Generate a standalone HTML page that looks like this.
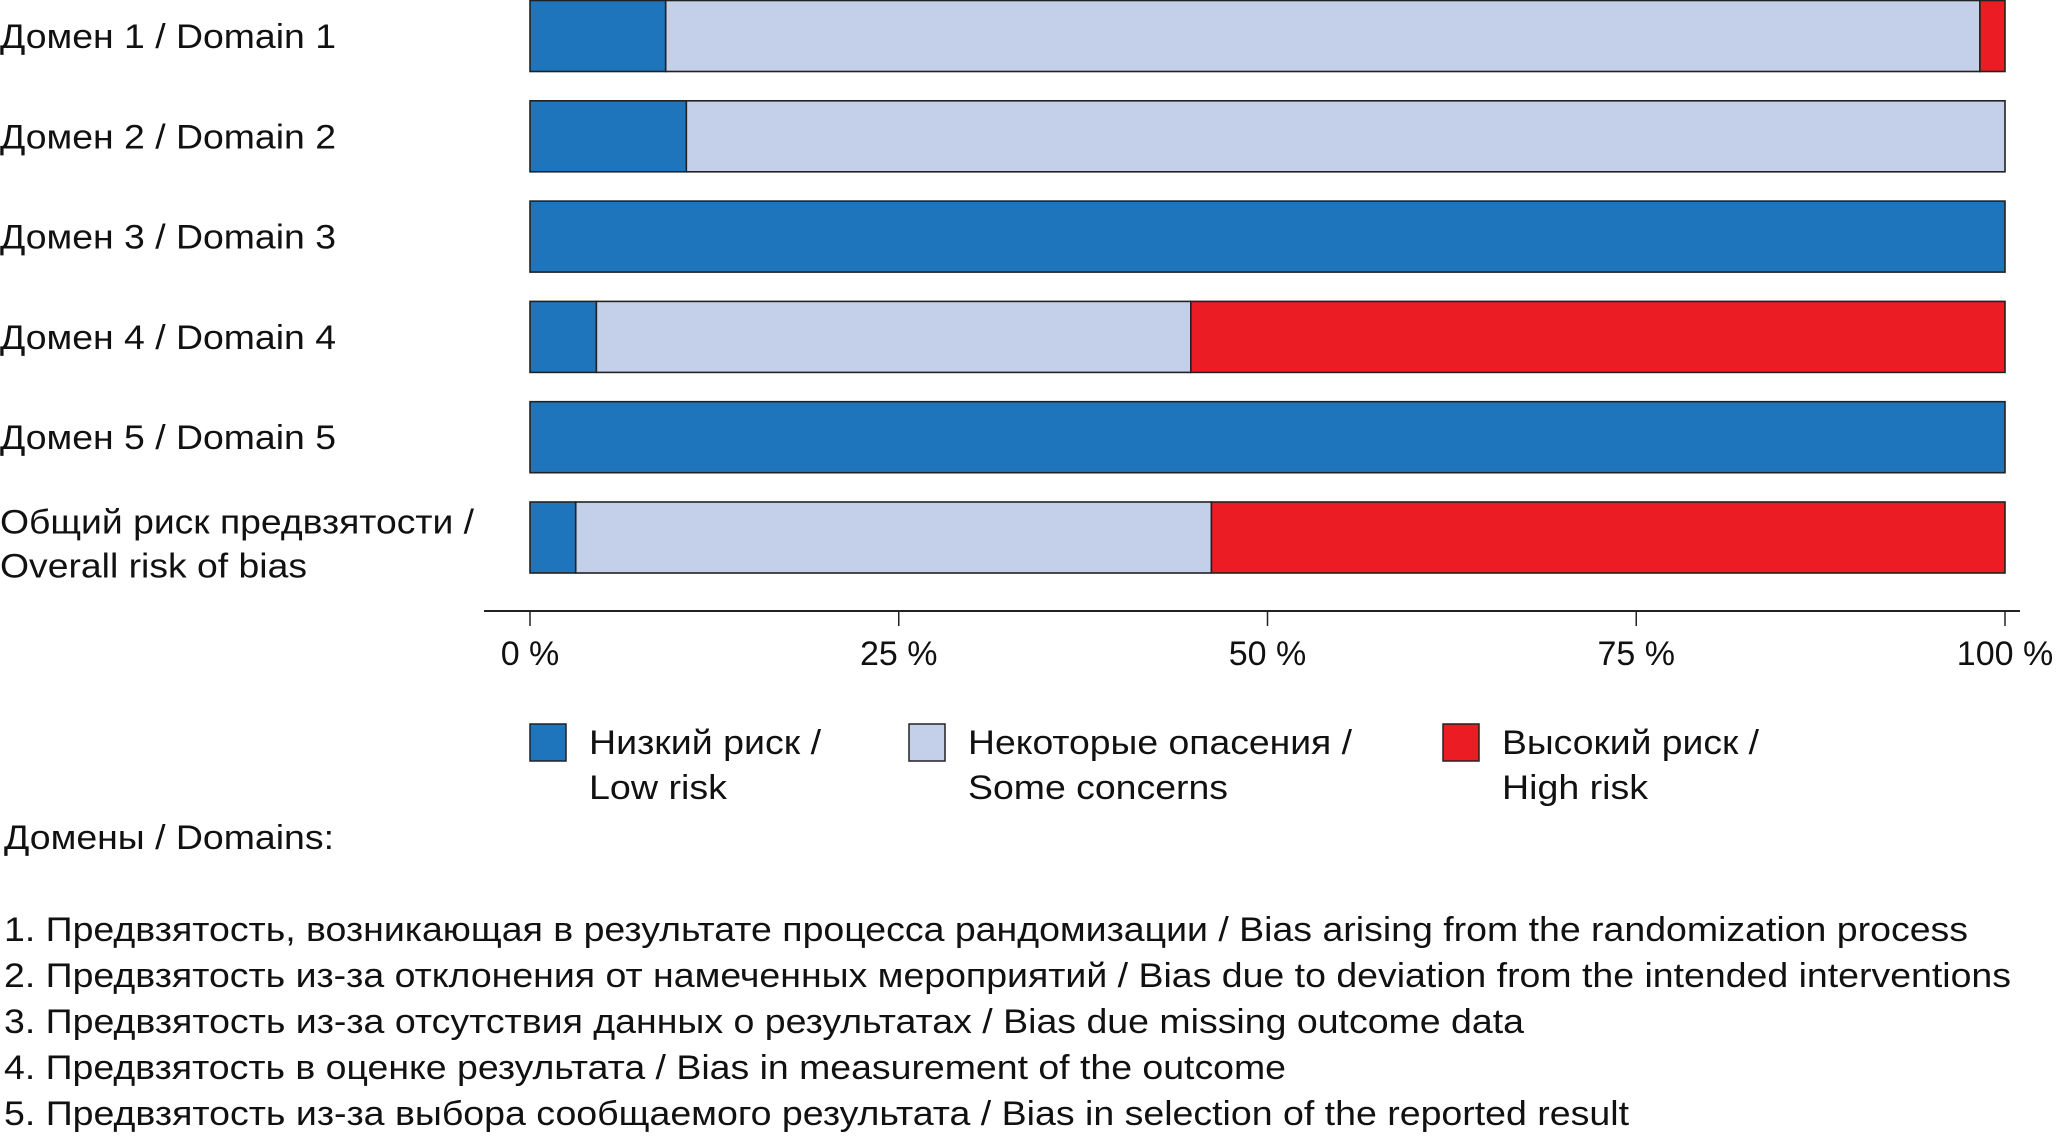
<!DOCTYPE html>
<html><head><meta charset="utf-8"><style>
html,body{margin:0;padding:0;background:#fff;}
svg{display:block;font-family:"Liberation Sans","Noto Sans CJK SC",sans-serif;}
text{fill:#111;font-size:34px;}
</style></head><body>
<svg id="chart" width="2060" height="1136" viewBox="0 0 2060 1136" xmlns="http://www.w3.org/2000/svg">
<g id="bars"></g>
<g id="labels"></g>
<g id="axis"></g>
<g>
 <rect x="530" y="724" width="36" height="37" fill="#1f75bc" stroke="#222" stroke-width="1.5"/>
 <text x="589" y="754" textLength="232" lengthAdjust="spacingAndGlyphs">Низкий риск /</text>
 <text x="589" y="799" textLength="138" lengthAdjust="spacingAndGlyphs">Low risk</text>
 <rect x="909" y="724" width="36" height="37" fill="#c4cfea" stroke="#222" stroke-width="1.5"/>
 <text x="968" y="754" textLength="384" lengthAdjust="spacingAndGlyphs">Некоторые опасения /</text>
 <text x="968" y="799" textLength="260" lengthAdjust="spacingAndGlyphs">Some concerns</text>
 <rect x="1443" y="724" width="36" height="37" fill="#ec1c24" stroke="#222" stroke-width="1.5"/>
 <text x="1502" y="754" textLength="257" lengthAdjust="spacingAndGlyphs">Высокий риск /</text>
 <text x="1502" y="799" textLength="146" lengthAdjust="spacingAndGlyphs">High risk</text>
</g>
<g>
 <text x="4" y="849" textLength="330" lengthAdjust="spacingAndGlyphs">Домены / Domains:</text>
 <text x="4" y="941" textLength="1964" lengthAdjust="spacingAndGlyphs">1. Предвзятость, возникающая в результате процесса рандомизации / Bias arising from the randomization process</text>
 <text x="4" y="987" textLength="2007" lengthAdjust="spacingAndGlyphs">2. Предвзятость из-за отклонения от намеченных мероприятий / Bias due to deviation from the intended interventions</text>
 <text x="4" y="1033" textLength="1520" lengthAdjust="spacingAndGlyphs">3. Предвзятость из-за отсутствия данных о результатах / Bias due missing outcome data</text>
 <text x="4" y="1079" textLength="1282" lengthAdjust="spacingAndGlyphs">4. Предвзятость в оценке результата / Bias in measurement of the outcome</text>
 <text x="4" y="1125" textLength="1625" lengthAdjust="spacingAndGlyphs">5. Предвзятость из-за выбора сообщаемого результата / Bias in selection of the reported result</text>
</g>
</svg>
<script>
const categories = ["Домен 1 / Domain 1","Домен 2 / Domain 2","Домен 3 / Domain 3","Домен 4 / Domain 4","Домен 5 / Domain 5","Общий риск предвзятости / Overall risk of bias"];
const lowRisk = [9.2, 10.6, 100, 4.5, 100, 3.1];
const someConcerns = [89.1, 89.4, 0, 40.3, 0, 43.1];
const highRisk = [1.7, 0, 0, 55.2, 0, 53.8];
const tickValues = [0, 25, 50, 75, 100];
const tickLabels = ["0 %", "25 %", "50 %", "75 %", "100 %"];

const NS = "http://www.w3.org/2000/svg";
const X0 = 530, X1 = 2005;
function xScale(v){ return X0 + (X1 - X0) * v / 100; }
const barH = 71;
function yTop(i){ return 0.5 + i * 100.3; }
function mk(tag, attrs, parent){ const e=document.createElementNS(NS,tag); for(const k in attrs) e.setAttribute(k,attrs[k]); parent.appendChild(e); return e; }

const gb = document.getElementById('bars');
const series = [[lowRisk,'#1f75bc','low'],[someConcerns,'#c4cfea','some'],[highRisk,'#ec1c24','high']];
categories.forEach((c,i)=>{
  let acc = 0;
  series.forEach(([arr,col,nm])=>{
    const v = arr[i];
    if (v > 0) {
      const r = mk('rect',{x:xScale(acc),y:yTop(i),width:xScale(acc+v)-xScale(acc),height:barH,fill:col,stroke:'#222','stroke-width':1.6},gb);
      
      
    }
    acc += v;
  });
});

const gl = document.getElementById('labels');
categories.forEach((c,i)=>{
  const cy = yTop(i) + barH/2;
  if (i < 5) {
    const t = mk('text',{x:0,y:cy+12,textLength:336,lengthAdjust:'spacingAndGlyphs'},gl);
    t.textContent = c;
    
    
  } else {
    const parts = c.split(' / ');
    const t1 = mk('text',{x:0,y:cy-4,textLength:474,lengthAdjust:'spacingAndGlyphs'},gl);
    t1.textContent = parts[0] + ' /';
    
    
    const t2 = mk('text',{x:0,y:cy+40,textLength:307,lengthAdjust:'spacingAndGlyphs'},gl);
    t2.textContent = parts[1];
    
    
  }
});

const ga = document.getElementById('axis');
const axl = mk('line',{x1:484,x2:2020,y1:611,y2:611,stroke:'#222','stroke-width':2},ga);


tickValues.forEach((v,i)=>{
  const x = xScale(v);
  const tk = mk('line',{x1:x,x2:x,y1:611,y2:626,stroke:'#222','stroke-width':1.5},ga);
  
  
  const t = mk('text',{x:x,y:665,'text-anchor':'middle'},ga);
  t.textContent = tickLabels[i];
  
  
});
</script>
</body></html>
